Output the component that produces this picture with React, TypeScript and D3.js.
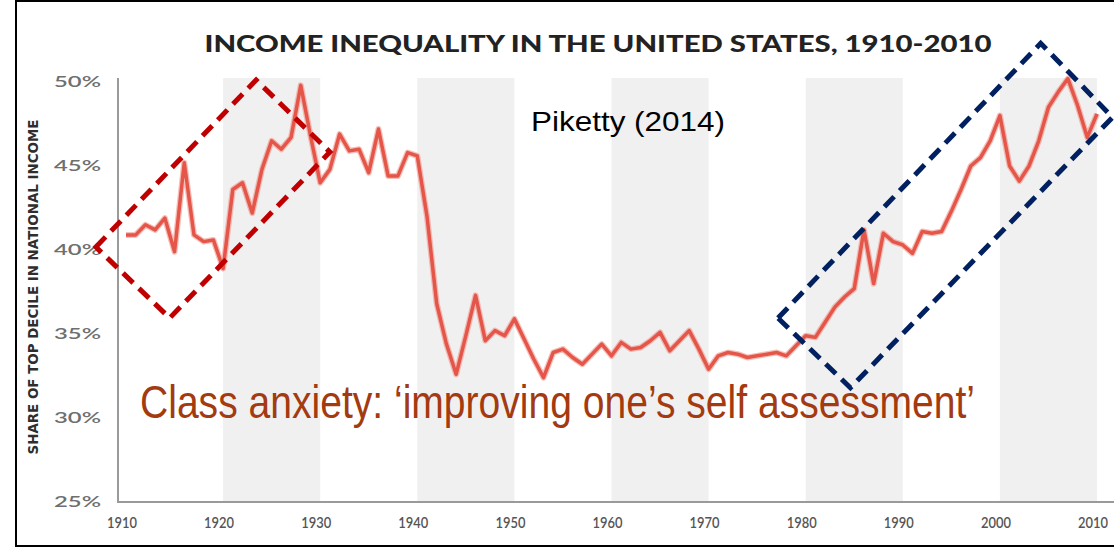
import React from 'react';
import * as d3 from 'd3';

const START_YEAR = 1910;
// Top decile share of national income (%), 1910..2010
const shareValues: number[] = [
  40.9, 40.9, 41.5, 41.2, 41.9, 39.9, 45.2, 40.9, 40.5, 40.6,
  38.9, 43.6, 44.0, 42.2, 44.8, 46.5, 46.0, 46.7, 49.8, 46.8,
  44.0, 44.8, 46.9, 45.9, 46.0, 44.6, 47.2, 44.4, 44.4, 45.8,
  45.6, 42.0, 36.8, 34.4, 32.6, 34.9, 37.3, 34.6, 35.2, 34.9,
  35.9, 34.7, 33.5, 32.4, 33.9, 34.1, 33.6, 33.2, 33.8, 34.4,
  33.7, 34.5, 34.1, 34.2, 34.6, 35.1, 34.0, 34.6, 35.2, 34.1,
  32.9, 33.7, 33.9, 33.8, 33.6, 33.7, 33.8, 33.9, 33.7, 34.3,
  34.9, 34.8, 35.7, 36.6, 37.2, 37.7, 41.2, 38.0, 41.0, 40.5,
  40.3, 39.8, 41.1, 41.0, 41.1, 42.3, 43.6, 45.0, 45.5, 46.5,
  48.0, 45.0, 44.1, 45.0, 46.5, 48.5, 49.4, 50.2, 48.6, 46.7,
  48.1,
];

const xTicks: number[] = [1910, 1920, 1930, 1940, 1950, 1960, 1970, 1980, 1990, 2000, 2010];
const yTicks: number[] = [25, 30, 35, 40, 45, 50];
const bandStarts: number[] = [1920, 1940, 1960, 1980, 2000];
const bandLength = 10;

const titleText = 'INCOME INEQUALITY IN THE UNITED STATES, 1910-2010';
const yAxisTitle = 'SHARE OF TOP DECILE IN NATIONAL INCOME';
const sourceText = 'Piketty (2014)';
const noteText = 'Class anxiety: \u2018improving one\u2019s self assessment\u2019';

// annotation boxes, corners in (year, share) space
const redBox: [number, number][] = [[1906.9, 40.18], [1923.4, 50.12], [1931.0, 45.83], [1914.5, 35.95]];
const navyBox: [number, number][] = [[1977.15, 35.95], [2004.2, 52.3], [2011.6, 47.9], [1984.6, 31.8]];

export default function App() {
  const W = 1114;
  const H = 548;
  const x = d3.scaleLinear().domain([1910, 2010]).range([126, 1097]);
  const y = d3.scaleLinear().domain([25, 50]).range([502, 82]);

  const points: [number, number][] = shareValues.map((v, i) => [START_YEAR + i, v]);
  const line = d3
    .line<[number, number]>()
    .x((d) => x(d[0]))
    .y((d) => y(d[1]))
    .curve(d3.curveLinear);

  const boxPath = (pts: [number, number][]) =>
    d3.line<[number, number]>().x((d) => x(d[0])).y((d) => y(d[1]))(pts) + 'Z';

  const bandTop = y(50) - 4;
  const noteScale = 0.85;

  return (
    <svg
      width={W}
      height={H}
      style={{ position: 'absolute', left: 0, top: 0, background: '#fff' }}
    >
      <rect x={0} y={0} width={W} height={H} fill="#fff" />
      {/* shaded decades */}
      {bandStarts.map((b) => (
        <rect
          key={b}
          x={x(b)}
          y={bandTop}
          width={x(b + bandLength) - x(b)}
          height={y(25) - bandTop}
          fill="#f0f0f0"
        />
      ))}
      {/* axes */}
      <line x1={118} x2={118} y1={bandTop} y2={y(25)} stroke="#9a9a9a" strokeWidth={2} />
      <line x1={117} x2={W} y1={y(25)} y2={y(25)} stroke="#9a9a9a" strokeWidth={2} />
      {yTicks.map((t) => (
        <text
          key={t}
          x={101}
          y={y(t) + 5}
          textAnchor="end"
          fontFamily="Lato, 'DejaVu Sans', sans-serif"
          fontSize={15}
          fontWeight={600}
          fill="#6f6f6f"
          textLength={47}
          lengthAdjust="spacingAndGlyphs"
        >
          {t + '%'}
        </text>
      ))}
      {xTicks.map((t) => (
        <text
          key={t}
          x={x(t) - 4}
          y={528}
          textAnchor="middle"
          fontFamily="Lato, 'DejaVu Sans', sans-serif"
          fontSize={15}
          fontWeight={600}
          fill="#555"
          textLength={30}
          lengthAdjust="spacingAndGlyphs"
        >
          {String(t)}
        </text>
      ))}
      <text
        transform={`translate(37.5, 287) rotate(-90)`}
        textAnchor="middle"
        fontFamily="'DejaVu Sans', Lato, sans-serif"
        fontSize={13.5}
        fontWeight={700}
        fill="#2e2e2e"
        textLength={335}
        lengthAdjust="spacingAndGlyphs"
      >
        {yAxisTitle}
      </text>
      {/* title */}
      <text
        x={598}
        y={52}
        textAnchor="middle"
        fontFamily="Lato, 'DejaVu Sans', sans-serif"
        fontSize={23}
        fontWeight={900}
        fill="#222"
        textLength={787}
        lengthAdjust="spacingAndGlyphs"
      >
        {titleText}
      </text>
      {/* data line */}
      <path d={line(points) || ''} fill="none" stroke="#f29488" strokeWidth={6} strokeLinejoin="round" opacity={0.6} />
      <path d={line(points) || ''} fill="none" stroke="#e5564a" strokeWidth={3.5} strokeLinejoin="round" />
      {/* annotations */}
      <text
        x={531}
        y={131}
        fontFamily="'Liberation Sans', Arial, sans-serif"
        fontSize={28}
        fill="#000"
        textLength={194}
        lengthAdjust="spacingAndGlyphs"
      >
        {sourceText}
      </text>
      <g transform={`translate(140, 418) scale(${noteScale}, 1)`}>
        <text
          x={0}
          y={0}
          fontFamily="'Liberation Sans', Arial, sans-serif"
          fontSize={46}
          fill="#a33a10"
          textLength={835 / noteScale}
          lengthAdjust="spacingAndGlyphs"
        >
          {noteText}
        </text>
      </g>
      <path d={boxPath(redBox)} fill="none" stroke="#c00000" strokeWidth={5} strokeDasharray="14 8" />
      <path d={boxPath(navyBox)} fill="none" stroke="#002060" strokeWidth={5} strokeDasharray="14 8" />
      {/* frame */}
      <line x1={16} x2={16} y1={0} y2={547} stroke="#000" strokeWidth={2} />
      <line x1={15} x2={W} y1={1} y2={1} stroke="#000" strokeWidth={2} />
      <line x1={15} x2={W} y1={546} y2={546} stroke="#000" strokeWidth={2} />
    </svg>
  );
}
